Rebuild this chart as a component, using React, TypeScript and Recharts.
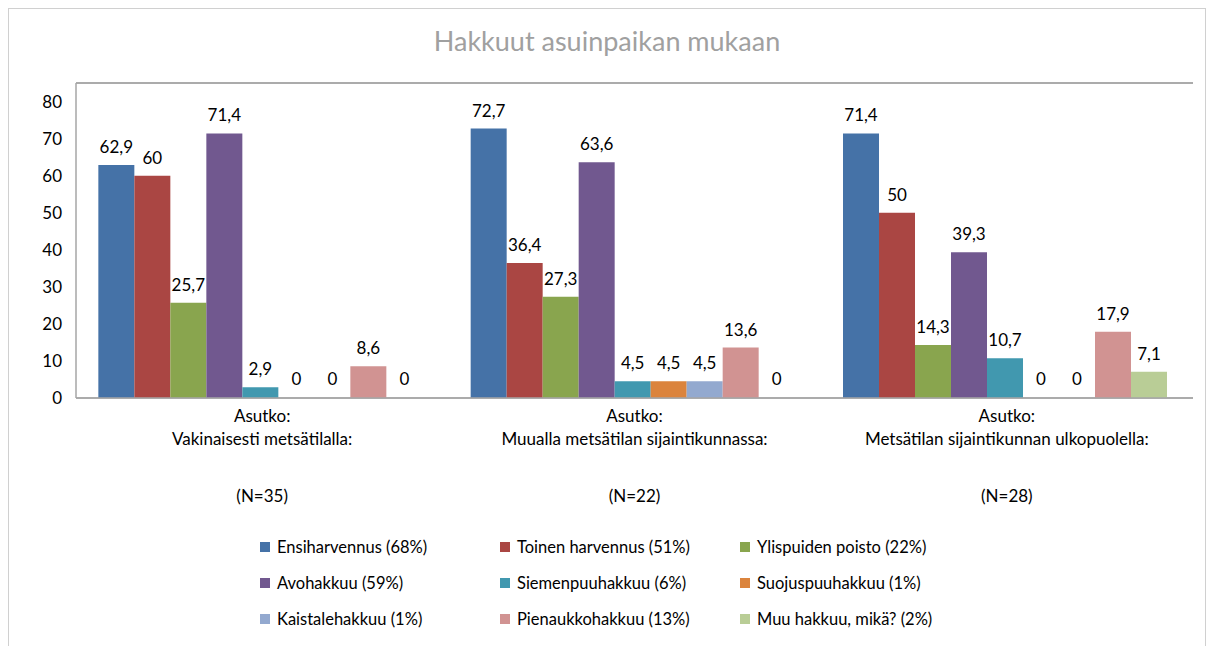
import React from 'react';
import { BarChart, Bar, XAxis, YAxis, CartesianGrid, LabelList, Legend, ReferenceLine, Cell } from 'recharts';

const groupLines = [
  ['Asutko:', 'Vakinaisesti metsätilalla:', '', '(N=35)'],
  ['Asutko:', 'Muualla metsätilan sijaintikunnassa:', '', '(N=22)'],
  ['Asutko:', 'Metsätilan sijaintikunnan ulkopuolella:', '', '(N=28)'],
];
const groups = ['g1', 'g2', 'g3'];

const seriesNames = [
  'Ensiharvennus (68%)',
  'Toinen harvennus (51%)',
  'Ylispuiden poisto (22%)',
  'Avohakkuu (59%)',
  'Siemenpuuhakkuu (6%)',
  'Suojuspuuhakkuu (1%)',
  'Kaistalehakkuu (1%)',
  'Pienaukkohakkuu (13%)',
  'Muu hakkuu, mikä? (2%)',
];
const seriesColors = ['#4572A7', '#AA4643', '#89A54E', '#71588F', '#4198AF', '#DB843D', '#93A9CF', '#D19392', '#B9CD96'];

const ensiharvennus = [62.9, 72.7, 71.4];
const toinenHarvennus = [60, 36.4, 50];
const ylispuidenPoisto = [25.7, 27.3, 14.3];
const avohakkuu = [71.4, 63.6, 39.3];
const siemenpuuhakkuu = [2.9, 4.5, 10.7];
const suojuspuuhakkuu = [0, 4.5, 0];
const kaistalehakkuu = [0, 4.5, 0];
const pienaukkohakkuu = [8.6, 13.6, 17.9];
const muuHakkuu = [0, 0, 7.1];

const yTicks = [0, 10, 20, 30, 40, 50, 60, 70, 80];

const seriesValues = [
  ensiharvennus, toinenHarvennus, ylispuidenPoisto, avohakkuu, siemenpuuhakkuu,
  suojuspuuhakkuu, kaistalehakkuu, pienaukkohakkuu, muuHakkuu,
];

const data = groups.map((g, i) => {
  const row: Record<string, number | string> = { name: g, idx: i };
  seriesValues.forEach((vals, s) => { row['s' + s] = vals[i]; });
  return row;
});

const FONT = 'Lato, "Open Sans", sans-serif';

const fmt = (v: any) => String(v).replace('.', ',');

const GroupTick = (props: any) => {
  const { x, y, payload } = props;
  const lines = groupLines[groups.indexOf(payload.value)];
  const offs = [9, 32, 60, 89];
  return (
    <g>
      {lines.map((l, i) => (
        <text key={i} x={x} y={y + offs[i]} textAnchor="middle" dominantBaseline="central"
          fontSize={17} fill="#000" fontFamily={FONT}>{l}</text>
      ))}
    </g>
  );
};

const LegendBox = () => (
  <div style={{ paddingLeft: 251, paddingTop: 4, display: 'grid', gridTemplateColumns: '240px 240px 240px', fontFamily: FONT, fontSize: 16.5, color: '#000' }}>
    {seriesNames.map((n, i) => (
      <div key={n} style={{ height: 36, display: 'flex', alignItems: 'center' }}>
        <span style={{ width: 10, height: 10, background: seriesColors[i], display: 'inline-block', marginRight: 7 }} />
        <span style={{ whiteSpace: 'nowrap' }}>{n}</span>
      </div>
    ))}
  </div>
);

export default function App() {
  return (
    <div style={{ position: 'relative', width: 1196, height: 640, border: '1px solid #d0d0d0', background: '#fff' }}>
      <div style={{ position: 'absolute', top: 15, left: 0, width: 1196, textAlign: 'center', fontFamily: FONT, fontSize: 27, color: '#a0a0a0', zIndex: 1 }}>
        Hakkuut asuinpaikan mukaan
      </div>
      <BarChart width={1196} height={636} data={data} margin={{ top: 74, right: 12, left: 0, bottom: 0 }}
        barCategoryGap="6%" barGap={0}>
        <CartesianGrid vertical={false} stroke="#a6a6a6" strokeWidth={1.5} />
        <XAxis dataKey="name" height={127} tick={<GroupTick />} tickLine={false} axisLine={{ stroke: '#a6a6a6', strokeWidth: 1.5 }} interval={0} />
        <YAxis yAxisId="l" domain={[0, 85]} ticks={yTicks} width={67} tickLine={false} tickSize={0} tickMargin={14}
          axisLine={{ stroke: '#a6a6a6', strokeWidth: 1.5 }} tick={{ fontSize: 17, fill: '#000', fontFamily: FONT }} />
        <YAxis yAxisId="r" orientation="right" domain={[0, 85]} ticks={yTicks} width={0} tick={false} tickLine={false}
          axisLine={{ stroke: '#a6a6a6', strokeWidth: 1.5 }} />
        <ReferenceLine yAxisId="l" y={85} stroke="#a6a6a6" strokeWidth={1.5} />
        <Legend verticalAlign="bottom" height={120} wrapperStyle={{ left: 0, width: 1196 }} content={<LegendBox />} />
        {seriesNames.map((n, i) => (
          <Bar key={n} yAxisId="l" dataKey={'s' + i} name={n} fill={seriesColors[i]} minPointSize={1} isAnimationActive={false}>
            {seriesValues[i].map((v, j) => (
              <Cell key={j} fill={v === 0 ? 'transparent' : seriesColors[i]} />
            ))}
            <LabelList dataKey={'s' + i} position="top" offset={12} formatter={fmt}
              style={{ fontSize: 17, fill: '#000', fontFamily: FONT }} />
          </Bar>
        ))}
      </BarChart>
    </div>
  );
}
